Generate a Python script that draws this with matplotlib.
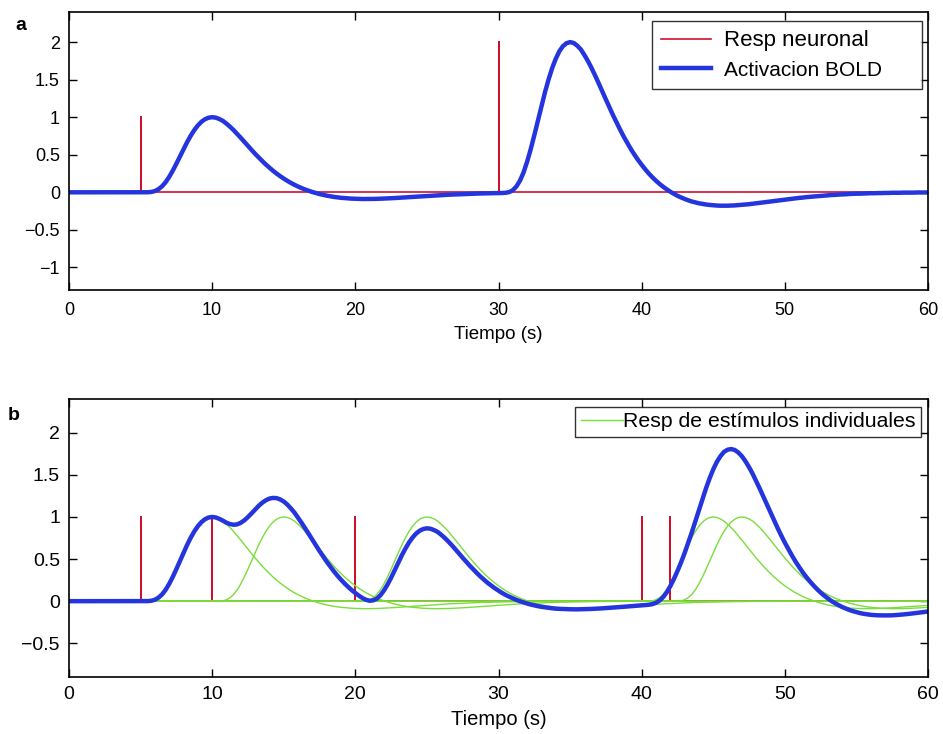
import numpy as np
import matplotlib.pyplot as plt

plt.rcParams['font.family'] = ['Liberation Sans', 'DejaVu Sans']

# hemodynamic response to a unit stimulus, sampled every 0.25 s from onset (0..30 s)
hrf_step = 0.25
hrf = [0.000, 0.000, 0.001, 0.005, 0.017, 0.042, 0.080, 0.135, 0.206, 0.289,
       0.381, 0.477, 0.574, 0.668, 0.753, 0.828, 0.890, 0.939, 0.973, 0.993,
       1.000, 0.994, 0.976, 0.951, 0.914, 0.873, 0.827, 0.777, 0.725, 0.671,
       0.618, 0.565, 0.513, 0.464, 0.416, 0.370, 0.328, 0.287, 0.250, 0.215,
       0.183, 0.153, 0.125, 0.100, 0.077, 0.056, 0.037, 0.020, 0.004, -0.010,
       -0.023, -0.034, -0.044, -0.053, -0.061, -0.067, -0.073, -0.077, -0.081, -0.084,
       -0.086, -0.088, -0.089, -0.089, -0.089, -0.088, -0.087, -0.085, -0.083, -0.081,
       -0.079, -0.076, -0.073, -0.070, -0.067, -0.064, -0.061, -0.058, -0.055, -0.052,
       -0.049, -0.046, -0.043, -0.040, -0.037, -0.035, -0.032, -0.030, -0.028, -0.026,
       -0.024, -0.022, -0.020, -0.018, -0.017, -0.015, -0.014, -0.013, -0.011, -0.010,
       -0.009, -0.009, -0.008, -0.007, -0.006, -0.006, -0.005, -0.005, -0.004, -0.004,
       -0.003, -0.003, -0.003, -0.002, -0.002, -0.002, -0.002, -0.001, -0.001, -0.001,
       -0.001]

# stimulus onsets (s) and amplitudes
onsets_a = [5, 30]
amps_a = [1, 2]
onsets_b = [5, 10, 20, 40, 42]
amps_b = [1, 1, 1, 1, 1]

t_end = 60
t = np.arange(0, t_end + hrf_step / 2, hrf_step)

red = '#d0102a'
blue = '#2535dd'
green = '#7ade3a'


def response(onset, amp):
    """Shifted copy of the hrf kernel on the full time grid."""
    y = np.zeros_like(t)
    i0 = int(round(onset / hrf_step))
    n = min(len(hrf), len(t) - i0)
    y[i0:i0 + n] = amp * np.array(hrf[:n])
    return y


def sticks(onsets, amps):
    """Stick function: flat zero line with vertical spikes at each onset."""
    xs, ys = [0], [0]
    for o, a in zip(onsets, amps):
        xs += [o, o, o]
        ys += [0, a, 0]
    xs.append(t_end)
    ys.append(0)
    return xs, ys


def style_axes(ax, yticks, ylim, size, xpad, labelpad):
    ax.set_xlim(0, t_end)
    ax.set_ylim(*ylim)
    ax.set_xticks(range(0, 61, 10))
    ax.set_yticks(yticks)
    ax.set_yticklabels(['%g' % v if v >= 0 else '\u2212%g' % -v for v in yticks])
    ax.tick_params(direction='in', top=True, right=True, length=6, labelsize=size, width=1)
    ax.tick_params(axis='x', pad=xpad)
    ax.tick_params(axis='y', pad=6.5)
    ax.set_xlabel('Tiempo (s)', fontsize=size + 0.5, labelpad=labelpad)
    for s in ax.spines.values():
        s.set_linewidth(1.2)


fig = plt.figure(figsize=(9.43, 7.34), dpi=100)
ax1 = fig.add_axes([69 / 943, 1 - 290 / 734, 859 / 943, 278 / 734])
ax2 = fig.add_axes([69 / 943, 1 - 677 / 734, 859 / 943, 278 / 734])

# panel a
xs, ys = sticks(onsets_a, amps_a)
bold_a = sum(response(o, a) for o, a in zip(onsets_a, amps_a))
ax1.plot(xs, ys, color=red, lw=1.2, label='Resp neuronal')
ax1.plot(t, bold_a, color=blue, lw=3.2, label='Activacion BOLD')
style_axes(ax1, [-1, -0.5, 0, 0.5, 1, 1.5, 2], (-1.3, 2.4), 13, 9, 5)
# wide box with the entries left-aligned
leg = ax1.legend(loc='upper left', mode='expand',
                 bbox_to_anchor=(652 / 943, 1 - 88 / 734, 270 / 943, 67 / 734),
                 bbox_transform=fig.transFigure, borderaxespad=0,
                 fontsize=15, frameon=True, fancybox=False, edgecolor='black',
                 handlelength=2.4, handletextpad=0.6, labelspacing=0.45,
                 borderpad=0.45)
leg.get_frame().set_linewidth(1.0)
leg.get_texts()[0].set_fontsize(16)
ax1.text(-0.062, 0.982, 'a', transform=ax1.transAxes, fontsize=14, fontweight='bold',
         ha='left', va='top')

# panel b
xs, ys = sticks(onsets_b, amps_b)
ax2.plot(xs, ys, color=red, lw=1.2)
singles = [response(o, a) for o, a in zip(onsets_b, amps_b)]
for k, y in enumerate(singles):
    ax2.plot(t, y, color=green, lw=1.0,
             label='Resp de est\u00edmulos individuales' if k == 0 else None)
ax2.plot(t, sum(singles), color=blue, lw=3.2)
style_axes(ax2, [-0.5, 0, 0.5, 1, 1.5, 2], (-0.9, 2.4), 14, 6.5, 5)
leg = ax2.legend(loc='upper right', bbox_to_anchor=(921 / 943, 1 - 407 / 734),
                 bbox_transform=fig.transFigure, borderaxespad=0,
                 fontsize=15.3, frameon=True, fancybox=False, edgecolor='black',
                 handlelength=2.0, handletextpad=0.0, borderpad=0.25)
leg.get_frame().set_linewidth(1.0)
ax2.text(-0.071, 0.97, 'b', transform=ax2.transAxes, fontsize=14, fontweight='bold',
         ha='left', va='top')

fig.savefig('out.png', dpi=100)
